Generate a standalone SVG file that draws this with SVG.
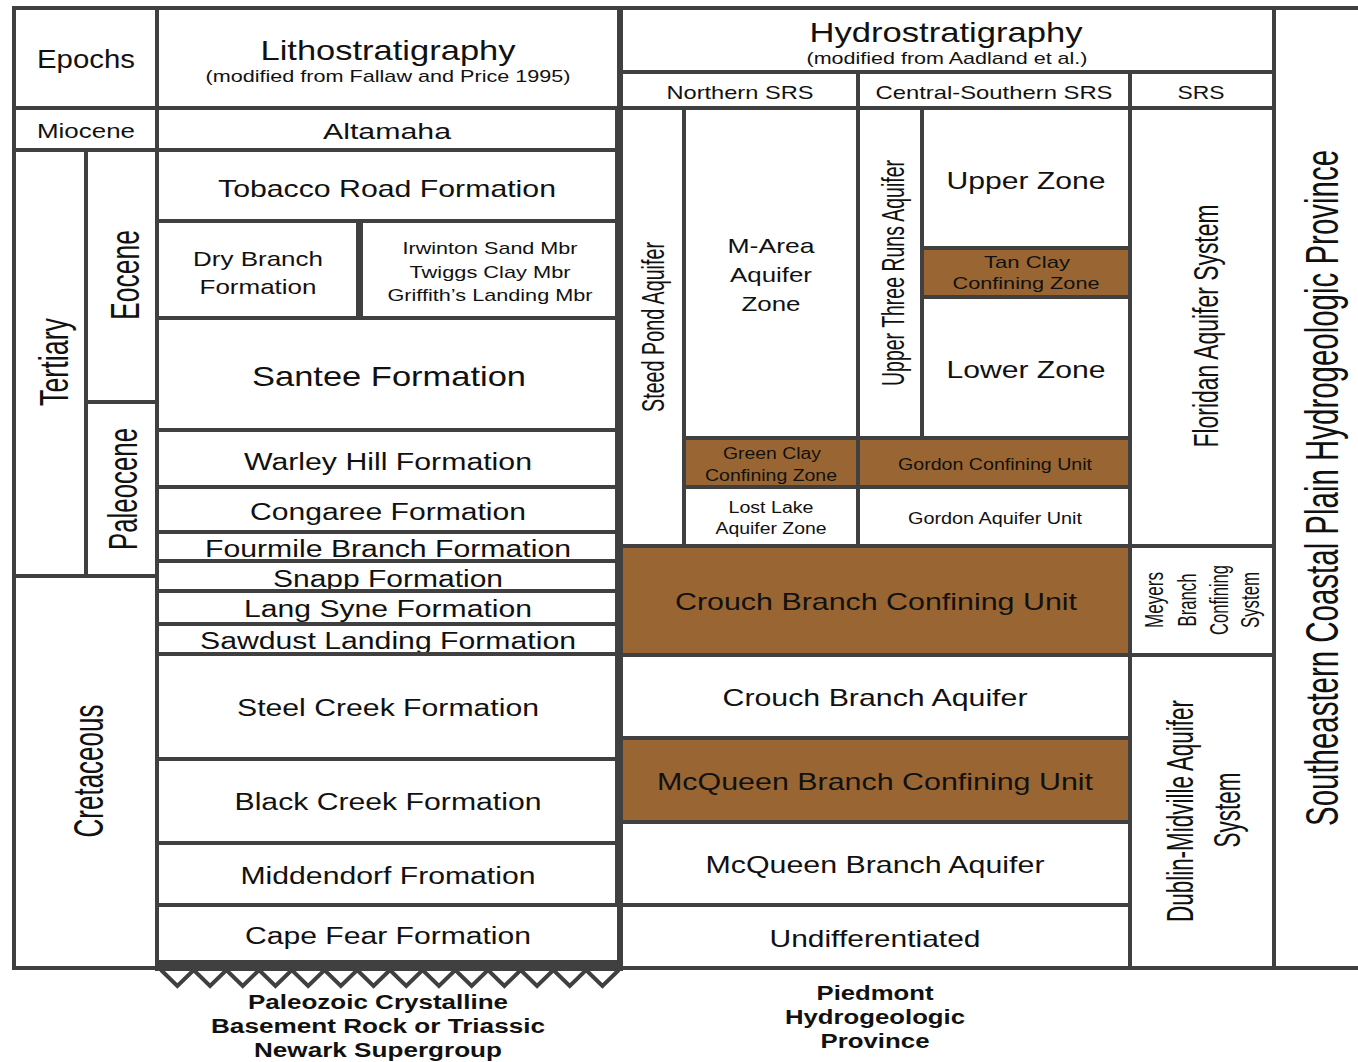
<svg xmlns="http://www.w3.org/2000/svg" width="1358" height="1062" viewBox="0 0 1358 1062">
<style>
.c{fill:#fff;stroke:#404040;stroke-width:4}
.b{fill:#996633;stroke:#404040;stroke-width:4}
text{font-family:"Liberation Sans",Arial,sans-serif;fill:#111;text-anchor:middle}
.v{font-family:"Liberation Sans Narrow","Liberation Sans",Arial,sans-serif}
.bd{font-weight:bold;font-size:20px}
</style>
<defs>
<path id="zig" d="M161,970 l16.35,16 l16.35,-16 l16.35,16 l16.35,-16 l16.35,16 l16.35,-16 l16.35,16 l16.35,-16 l16.35,16 l16.35,-16 l16.35,16 l16.35,-16 l16.35,16 l16.35,-16 l16.35,16 l16.35,-16 l16.35,16 l16.35,-16 l16.35,16 l16.35,-16 l16.35,16 l16.35,-16 l16.35,16 l16.35,-16 l16.35,16 l16.35,-16 l16.35,16 l16.35,-16"/>
</defs>
<rect width="1358" height="1062" fill="#fff"/>

<!-- Headers -->
<g id="epochs-header"><rect class="c" x="14" y="8" width="143" height="100"/><text x="86" y="68" font-size="25" textLength="98" lengthAdjust="spacingAndGlyphs">Epochs</text></g>
<g id="litho-header"><rect class="c" x="157" y="8" width="462" height="100"/>
<text x="388" y="60" font-size="28" textLength="255" lengthAdjust="spacingAndGlyphs">Lithostratigraphy</text>
<text x="388" y="82" font-size="17" textLength="365" lengthAdjust="spacingAndGlyphs">(modified from Fallaw and Price 1995)</text></g>
<g id="hydro-header"><rect class="c" x="621" y="8" width="653" height="64"/>
<text x="946" y="42" font-size="28" textLength="273" lengthAdjust="spacingAndGlyphs">Hydrostratigraphy</text>
<text x="947" y="64" font-size="17" textLength="281" lengthAdjust="spacingAndGlyphs">(modified from Aadland et al.)</text></g>
<g id="northern-srs"><rect class="c" x="621" y="72" width="237" height="36"/><text x="740" y="99" font-size="19" textLength="147" lengthAdjust="spacingAndGlyphs">Northern SRS</text></g>
<g id="central-southern-srs"><rect class="c" x="858" y="72" width="272" height="36"/><text x="994" y="99" font-size="19" textLength="237" lengthAdjust="spacingAndGlyphs">Central-Southern SRS</text></g>
<g id="srs"><rect class="c" x="1130" y="72" width="144" height="36"/><text x="1201" y="99" font-size="19" textLength="47" lengthAdjust="spacingAndGlyphs">SRS</text></g>
<g id="province"><path d="M1358,8 H1274 V968 H1358" fill="#fff" stroke="#404040" stroke-width="4"/>
<text class="v" transform="translate(1338,488) rotate(-90) scale(1,1.5)" font-size="31" textLength="676" lengthAdjust="spacingAndGlyphs">Southeastern Coastal Plain Hydrogeologic Province</text></g>

<!-- Epochs -->
<g id="miocene"><rect class="c" x="14" y="108" width="143" height="42"/><text x="86" y="138" font-size="20" textLength="98" lengthAdjust="spacingAndGlyphs">Miocene</text></g>
<g id="tertiary"><rect class="c" x="14" y="150" width="72" height="426"/><text class="v" transform="translate(68,362) rotate(-90)" font-size="40" textLength="88" lengthAdjust="spacingAndGlyphs">Tertiary</text></g>
<g id="eocene"><rect class="c" x="86" y="150" width="71" height="252"/><text class="v" transform="translate(139,275) rotate(-90)" font-size="40" textLength="90" lengthAdjust="spacingAndGlyphs">Eocene</text></g>
<g id="paleocene"><rect class="c" x="86" y="402" width="71" height="174"/><text class="v" transform="translate(137,489) rotate(-90)" font-size="41" textLength="122" lengthAdjust="spacingAndGlyphs">Paleocene</text></g>
<g id="cretaceous"><rect class="c" x="14" y="576" width="143" height="392"/><text class="v" transform="translate(103,771) rotate(-90)" font-size="42" textLength="133" lengthAdjust="spacingAndGlyphs">Cretaceous</text></g>

<!-- Lithostratigraphy -->
<g id="altamaha"><rect class="c" x="157" y="108" width="460" height="42"/><text x="387" y="139" font-size="22" textLength="128" lengthAdjust="spacingAndGlyphs">Altamaha</text></g>
<g id="tobacco-road"><rect class="c" x="157" y="150" width="460" height="71"/><text x="387" y="197" font-size="24" textLength="338" lengthAdjust="spacingAndGlyphs">Tobacco Road Formation</text></g>
<g id="dry-branch"><rect class="c" x="157" y="221" width="201" height="97"/>
<text x="258" y="266" font-size="21" textLength="130" lengthAdjust="spacingAndGlyphs">Dry Branch</text>
<text x="258" y="294" font-size="21" textLength="117" lengthAdjust="spacingAndGlyphs">Formation</text></g>
<g id="dry-branch-members"><rect class="c" x="361" y="221" width="256" height="97"/>
<text x="490" y="254" font-size="17" textLength="175" lengthAdjust="spacingAndGlyphs">Irwinton Sand Mbr</text>
<text x="490" y="278" font-size="17" textLength="161" lengthAdjust="spacingAndGlyphs">Twiggs Clay Mbr</text>
<text x="490" y="301" font-size="17" textLength="205" lengthAdjust="spacingAndGlyphs">Griffith’s Landing Mbr</text></g>
<g id="santee"><rect class="c" x="157" y="318" width="460" height="112"/><text x="389" y="386" font-size="28" textLength="274" lengthAdjust="spacingAndGlyphs">Santee Formation</text></g>
<g id="warley-hill"><rect class="c" x="157" y="430" width="460" height="57"/><text x="388" y="470" font-size="23" textLength="288" lengthAdjust="spacingAndGlyphs">Warley Hill Formation</text></g>
<g id="congaree"><rect class="c" x="157" y="487" width="460" height="45"/><text x="388" y="520" font-size="23" textLength="276" lengthAdjust="spacingAndGlyphs">Congaree Formation</text></g>
<g id="fourmile-branch"><rect class="c" x="157" y="532" width="460" height="29"/><text x="388" y="557" font-size="23" textLength="366" lengthAdjust="spacingAndGlyphs">Fourmile Branch Formation</text></g>
<g id="snapp"><rect class="c" x="157" y="561" width="460" height="30"/><text x="388" y="587" font-size="23" textLength="230" lengthAdjust="spacingAndGlyphs">Snapp Formation</text></g>
<g id="lang-syne"><rect class="c" x="157" y="591" width="460" height="33"/><text x="388" y="617" font-size="23" textLength="288" lengthAdjust="spacingAndGlyphs">Lang Syne Formation</text></g>
<g id="sawdust-landing"><rect class="c" x="157" y="624" width="460" height="30"/><text x="388" y="649" font-size="23" textLength="376" lengthAdjust="spacingAndGlyphs">Sawdust Landing Formation</text></g>
<g id="steel-creek"><rect class="c" x="157" y="654" width="460" height="105"/><text x="388" y="716" font-size="23" textLength="302" lengthAdjust="spacingAndGlyphs">Steel Creek Formation</text></g>
<g id="black-creek"><rect class="c" x="157" y="759" width="460" height="84"/><text x="388" y="810" font-size="23" textLength="307" lengthAdjust="spacingAndGlyphs">Black Creek Formation</text></g>
<g id="middendorf"><rect class="c" x="157" y="843" width="460" height="62"/><text x="388" y="884" font-size="23" textLength="295" lengthAdjust="spacingAndGlyphs">Middendorf Fromation</text></g>
<g id="cape-fear"><rect class="c" x="157" y="905" width="462" height="61"/><text x="388" y="944" font-size="23" textLength="286" lengthAdjust="spacingAndGlyphs">Cape Fear Formation</text></g>

<!-- Hydrostratigraphy -->
<g id="steed-pond"><rect class="c" x="621" y="108" width="63" height="438"/><text class="v" transform="translate(664,327) rotate(-90)" font-size="32" textLength="170" lengthAdjust="spacingAndGlyphs">Steed Pond Aquifer</text></g>
<g id="m-area"><rect class="c" x="684" y="108" width="174" height="330"/>
<text x="771" y="253" font-size="21" textLength="87" lengthAdjust="spacingAndGlyphs">M-Area</text>
<text x="771" y="282" font-size="21" textLength="82" lengthAdjust="spacingAndGlyphs">Aquifer</text>
<text x="771" y="311" font-size="21" textLength="59" lengthAdjust="spacingAndGlyphs">Zone</text></g>
<g id="green-clay"><rect class="b" x="684" y="438" width="174" height="49"/>
<text x="772" y="459" font-size="16" textLength="98" lengthAdjust="spacingAndGlyphs">Green Clay</text>
<text x="771" y="481" font-size="16" textLength="132" lengthAdjust="spacingAndGlyphs">Confining Zone</text></g>
<g id="lost-lake"><rect class="c" x="684" y="487" width="174" height="59"/>
<text x="771" y="513" font-size="16" textLength="85" lengthAdjust="spacingAndGlyphs">Lost Lake</text>
<text x="771" y="534" font-size="16" textLength="111" lengthAdjust="spacingAndGlyphs">Aquifer Zone</text></g>
<g id="upper-three-runs"><rect class="c" x="858" y="108" width="64" height="330"/><text class="v" transform="translate(904,273) rotate(-90)" font-size="32" textLength="226" lengthAdjust="spacingAndGlyphs">Upper Three Runs Aquifer</text></g>
<g id="upper-zone"><rect class="c" x="922" y="108" width="208" height="140"/><text x="1026" y="189" font-size="24" textLength="159" lengthAdjust="spacingAndGlyphs">Upper Zone</text></g>
<g id="tan-clay"><rect class="b" x="922" y="248" width="208" height="49"/>
<text x="1027" y="268" font-size="17" textLength="86" lengthAdjust="spacingAndGlyphs">Tan Clay</text>
<text x="1026" y="289" font-size="17" textLength="147" lengthAdjust="spacingAndGlyphs">Confining Zone</text></g>
<g id="lower-zone"><rect class="c" x="922" y="297" width="208" height="141"/><text x="1026" y="378" font-size="24" textLength="159" lengthAdjust="spacingAndGlyphs">Lower Zone</text></g>
<g id="gordon-confining"><rect class="b" x="858" y="438" width="272" height="49"/><text x="995" y="470" font-size="16" textLength="194" lengthAdjust="spacingAndGlyphs">Gordon Confining Unit</text></g>
<g id="gordon-aquifer"><rect class="c" x="858" y="487" width="272" height="59"/><text x="995" y="524" font-size="16" textLength="174" lengthAdjust="spacingAndGlyphs">Gordon Aquifer Unit</text></g>
<g id="floridan"><rect class="c" x="1130" y="108" width="144" height="438"/><text class="v" transform="translate(1218,326) rotate(-90)" font-size="35" textLength="243" lengthAdjust="spacingAndGlyphs">Floridan Aquifer System</text></g>
<g id="crouch-confining"><rect class="b" x="621" y="546" width="509" height="109"/><text x="876" y="610" font-size="24" textLength="402" lengthAdjust="spacingAndGlyphs">Crouch Branch Confining Unit</text></g>
<g id="meyers-branch"><rect class="c" x="1130" y="546" width="144" height="109"/>
<text class="v" transform="translate(1163,600) rotate(-90)" font-size="25" textLength="56" lengthAdjust="spacingAndGlyphs">Meyers</text>
<text class="v" transform="translate(1196,600) rotate(-90)" font-size="25" textLength="53" lengthAdjust="spacingAndGlyphs">Branch</text>
<text class="v" transform="translate(1228,600) rotate(-90)" font-size="25" textLength="70" lengthAdjust="spacingAndGlyphs">Confining</text>
<text class="v" transform="translate(1259,600) rotate(-90)" font-size="25" textLength="56" lengthAdjust="spacingAndGlyphs">System</text></g>
<g id="crouch-aquifer"><rect class="c" x="621" y="655" width="509" height="83"/><text x="875" y="706" font-size="24" textLength="305" lengthAdjust="spacingAndGlyphs">Crouch Branch Aquifer</text></g>
<g id="mcqueen-confining"><rect class="b" x="621" y="738" width="509" height="84"/><text x="875" y="790" font-size="24" textLength="436" lengthAdjust="spacingAndGlyphs">McQueen Branch Confining Unit</text></g>
<g id="mcqueen-aquifer"><rect class="c" x="621" y="822" width="509" height="83"/><text x="875" y="873" font-size="24" textLength="339" lengthAdjust="spacingAndGlyphs">McQueen Branch Aquifer</text></g>
<g id="undifferentiated"><rect class="c" x="621" y="905" width="509" height="63"/><text x="875" y="947" font-size="24" textLength="211" lengthAdjust="spacingAndGlyphs">Undifferentiated</text></g>
<g id="dublin-midville"><rect class="c" x="1130" y="655" width="144" height="313"/>
<text class="v" transform="translate(1193,811) rotate(-90)" font-size="36" textLength="222" lengthAdjust="spacingAndGlyphs">Dublin-Midville Aquifer</text>
<text class="v" transform="translate(1240,810) rotate(-90)" font-size="36" textLength="75" lengthAdjust="spacingAndGlyphs">System</text></g>

<!-- Base and basement -->
<g id="base-line"><line x1="12" y1="968" x2="1358" y2="968" stroke="#404040" stroke-width="4"/></g>
<g id="basement-contact">
<rect x="155" y="960" width="468" height="11" fill="#404040"/>
<use href="#zig" fill="none" stroke="#404040" stroke-width="4" stroke-linejoin="miter"/>
</g>
<g id="basement-label">
<text class="bd" x="378" y="1009" textLength="260" lengthAdjust="spacingAndGlyphs">Paleozoic Crystalline</text>
<text class="bd" x="378" y="1033" textLength="334" lengthAdjust="spacingAndGlyphs">Basement Rock or Triassic</text>
<text class="bd" x="378" y="1057" textLength="248" lengthAdjust="spacingAndGlyphs">Newark Supergroup</text>
</g>
<g id="piedmont-label">
<text class="bd" x="875" y="1000" textLength="117" lengthAdjust="spacingAndGlyphs">Piedmont</text>
<text class="bd" x="875" y="1024" textLength="180" lengthAdjust="spacingAndGlyphs">Hydrogeologic</text>
<text class="bd" x="875" y="1048" textLength="109" lengthAdjust="spacingAndGlyphs">Province</text>
</g>
</svg>
